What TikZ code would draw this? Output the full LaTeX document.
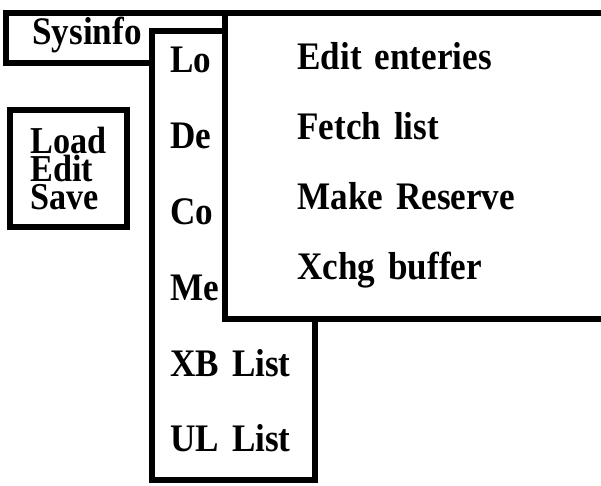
\documentclass[tikz,border=0pt]{standalone}
\usepackage{fontspec}
\setmainfont{Liberation Serif}[FakeStretch=0.9, WordSpace=0.6]
\usetikzlibrary{positioning}
\tikzset{
  menubox/.style={draw=black, line width=2.6pt, fill=white, inner sep=0pt},
  entry/.style={font=\fontsize{19.5}{14}\selectfont\bfseries, inner sep=0pt,
    text height=13pt, text depth=4pt, align=left}
}
\begin{document}
\begin{tikzpicture}[x=0.5pt, y=-0.5pt]
  \useasboundingbox (0,0) rectangle (601,486);
  \clip (0,0) rectangle (601,486);
  \fill[white] (0,0) rectangle (601,486);

  % menu bar
  \node[menubox, minimum width=117pt, minimum height=25pt] (bar) at (123,38) {};
  \node[entry, anchor=base west] (sysinfo) at (32,45) {Sysinfo};

  % file menu
  \node[menubox, minimum width=58.5pt, minimum height=58.5pt, align=left,
        font=\fontsize{19}{14}\selectfont\bfseries] (filemenu) at (68.5,168.5)
        {Load\\Edit\\Save};

  % sysinfo drop-down
  \node[menubox, minimum width=81.5pt, minimum height=224.5pt] (dropbox) at (233.5,255.5) {};
  \begin{scope}[node distance=37.9pt, every node/.style={entry, text width=65pt}]
    \node[anchor=base west] (lo) at (170,73) {Lo};
    \node (de) [below of=lo] {De};
    \node (co) [below of=de] {Co};
    \node (me) [below of=co] {Me};
    \node (xb) [below of=me] {XB List};
    \node (ul) [below of=xb] {UL List};
  \end{scope}

  % sub menu
  \node[menubox, minimum width=237.5pt, minimum height=153pt] (subbox) at (462.5,166) {};
  \begin{scope}[node distance=35pt, every node/.style={entry, text width=130pt}]
    \node[anchor=base west] (edit) at (297,70) {Edit enteries};
    \node (fetch) [below of=edit] {Fetch list};
    \node (make)  [below of=fetch] {Make Reserve};
    \node (xchg)  [below of=make] {Xchg buffer};
  \end{scope}
\end{tikzpicture}
\end{document}
